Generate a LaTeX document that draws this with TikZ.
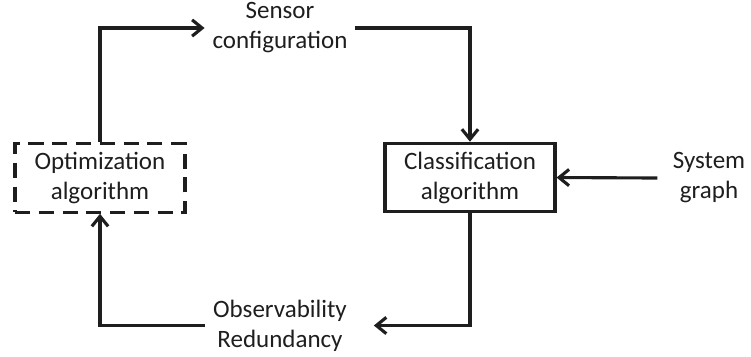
\documentclass[tikz,border=0pt]{standalone}
\usepackage{fontspec}
\setmainfont{Carlito}
\usetikzlibrary{arrows.meta}
\definecolor{ink}{RGB}{30,30,30}
\tikzstyle{algo box}=[draw=ink, line width=1.25pt, minimum width=68pt, minimum height=27.4pt, align=center, inner sep=2pt, text=ink]
\tikzstyle{algo dashed}=[algo box, dash pattern=on 6pt off 3.5pt]
\tikzstyle{data text}=[align=center, inner sep=3pt, text=ink]
\tikzstyle{flow}=[draw=ink, line width=1.25pt, ->]

\begin{document}
\begin{tikzpicture}[>={Straight Barb[length=4pt,width=6.5pt]}, x=0.4pt, y=-0.4pt, font=\fontsize{10}{12}\selectfont]
    \useasboundingbox (0,0) rectangle (751,356);

    % Algorithms
    \draw (100,178) node[algo dashed] (opt) {Optimization\\algorithm};
    \draw (470,177.5) node[algo box] (cls) {Classification\\algorithm};

    % Data
    \draw (280,28) node[data text] (sensor) {Sensor\\configuration};
    \draw (709,178) node[data text, inner xsep=6pt] (sys) {System\\graph};
    \draw (280,325.5) node[data text] (obs) {Observability\\Redundancy};

    % Flow
    \draw[flow] (opt.north) |- (sensor.west);
    \draw[flow] (sensor.east) -| (cls.north);
    \draw[flow] (sys.west) -- (cls.east);
    \draw[flow] (cls.south) |- ([xshift=7.6pt]obs.east);
    \draw[flow] (obs.west) -| (opt.south);

\end{tikzpicture}
\end{document}
